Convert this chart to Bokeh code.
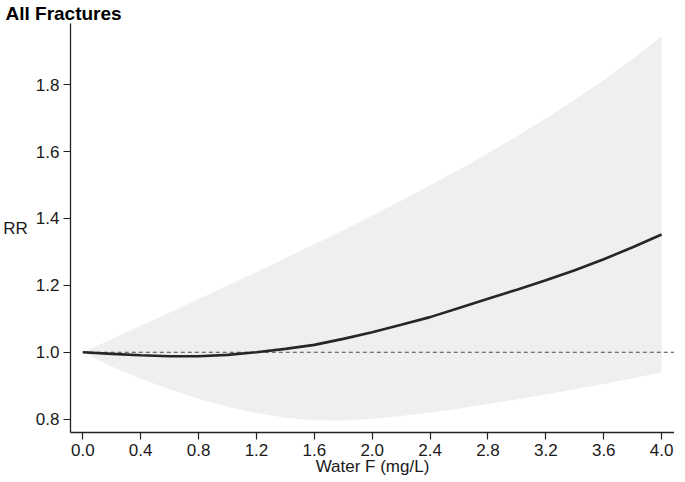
from bokeh.plotting import figure
from bokeh.models import Range1d, FixedTicker, CustomJSTickFormatter
from bokeh.embed import file_html
from bokeh.resources import INLINE

# ---- data ----
water_f = [0.0, 0.2, 0.4, 0.6, 0.8, 1.0, 1.2, 1.4, 1.6, 1.8, 2.0,
           2.2, 2.4, 2.6, 2.8, 3.0, 3.2, 3.4, 3.6, 3.8, 4.0]
rr = [1.000, 0.995, 0.991, 0.988, 0.988, 0.992, 1.000, 1.010, 1.022, 1.040, 1.060,
      1.082, 1.105, 1.132, 1.160, 1.187, 1.215, 1.245, 1.278, 1.314, 1.352]
rr_upper = [1.000, 1.039, 1.079, 1.119, 1.159, 1.199, 1.240, 1.281, 1.323, 1.365, 1.409,
            1.453, 1.499, 1.546, 1.595, 1.646, 1.699, 1.755, 1.814, 1.877, 1.945]
rr_lower = [1.000, 0.957, 0.921, 0.889, 0.861, 0.837, 0.818, 0.804, 0.797, 0.796, 0.800,
            0.809, 0.820, 0.832, 0.845, 0.859, 0.874, 0.889, 0.905, 0.922, 0.940]
ref_rr = 1.0
x_ticks = [0.0, 0.4, 0.8, 1.2, 1.6, 2.0, 2.4, 2.8, 3.2, 3.6, 4.0]
y_ticks = [0.8, 1.0, 1.2, 1.4, 1.6, 1.8]
title_text = "All Fractures"
x_label = "Water F (mg/L)"
y_label = "RR"

FONT = "Liberation Sans"

x0, x1 = -0.085, 4.089
y0, y1 = 0.76, 1.983
p = figure(frame_width=604, frame_height=409, output_backend="svg", toolbar_location=None,
           x_range=Range1d(x0, x1), y_range=Range1d(y0, y1),
           min_border_left=65, min_border_right=0, min_border_top=0,
           min_border_bottom=0)
p.outline_line_color = None
p.background_fill_color = "white"
p.border_fill_color = "white"
p.grid.visible = False

p.title.text = title_text
p.title.text_font = FONT
p.title.text_font_size = "19px"
p.title.text_font_style = "bold"
p.title.text_color = "#000000"
p.title.align = "left"
p.title.offset = -65
p.title.standoff = 0

p.varea(x=water_f, y1=rr_lower, y2=rr_upper, fill_color="#efefef")
p.line(x=[water_f[0], x1], y=[ref_rr, ref_rr], line_color="#4a4a4a",
       line_width=1.2, line_dash="4 3")
p.line(x=water_f, y=rr, line_color="#262626", line_width=2.6)

for ax in (p.xaxis[0], p.yaxis[0]):
    ax.axis_line_color = "#222222"
    ax.axis_line_width = 1.3
    ax.major_tick_line_color = "#222222"
    ax.major_tick_line_width = 1.2
    ax.major_tick_out = 7
    ax.major_tick_in = 0
    ax.minor_tick_out = 0
    ax.minor_tick_in = 0
    ax.major_label_text_font = FONT
    ax.major_label_text_font_size = "17px"
    ax.major_label_text_color = "#1a1a1a"
    ax.axis_label_text_font = FONT
    ax.axis_label_text_font_size = "17px"
    ax.axis_label_text_font_style = "normal"
    ax.axis_label_text_color = "#1a1a1a"

p.xaxis[0].major_label_standoff = 4
p.yaxis[0].major_label_standoff = 4
p.xaxis[0].ticker = FixedTicker(ticks=x_ticks)
p.yaxis[0].ticker = FixedTicker(ticks=y_ticks)
p.xaxis[0].axis_label = x_label
p.xaxis[0].axis_label_standoff = -2
p.yaxis[0].axis_label = y_label
p.yaxis[0].axis_label_standoff = 5
p.yaxis[0].axis_label_orientation = "horizontal"
p.xaxis[0].formatter = CustomJSTickFormatter(code="return tick.toFixed(1);")
p.yaxis[0].formatter = CustomJSTickFormatter(code="return tick.toFixed(1);")

open("out.html", "w").write(file_html(p, INLINE))
